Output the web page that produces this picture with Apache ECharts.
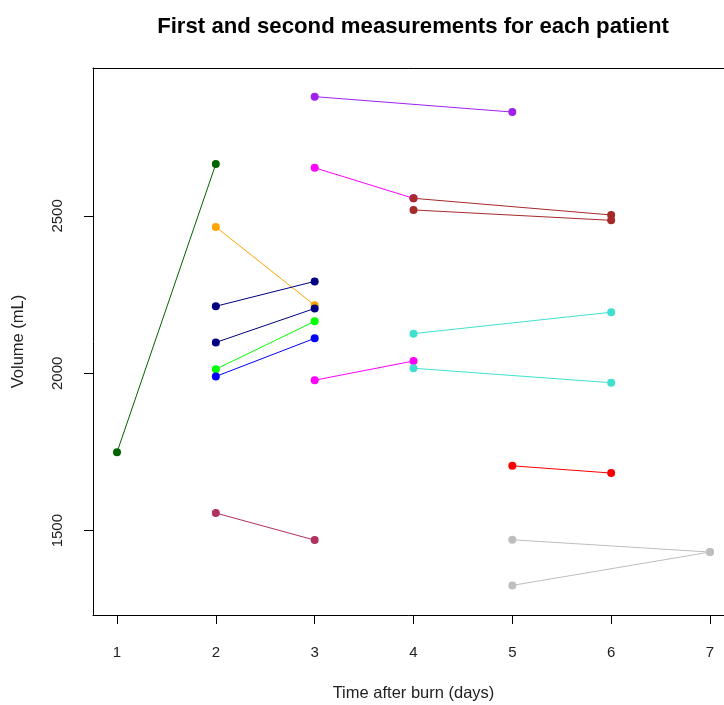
<!DOCTYPE html>
<html>
<head>
<meta charset="utf-8">
<script src="https://cdn.jsdelivr.net/npm/echarts@6/dist/echarts.min.js"></script>
<style>
  html, body { margin: 0; padding: 0; background: #fff; overflow: hidden; }
  #chart { width: 724px; height: 705px; }
</style>
</head>
<body>
<div id="chart"></div>
<script>
// Each patient: day and volume of the first and second measurement
const firstDay  = [1, 3, 3, 4, 4, 2, 2, 2, 2, 2, 3, 4, 4, 5, 2, 5, 5];
const firstVol  = [1749, 2879, 2653, 2556, 2519, 2465, 2213, 2098, 2013, 1990, 1978, 2126, 2016, 1706, 1556, 1471, 1326];
const secondDay = [2, 5, 4, 6, 6, 3, 3, 3, 3, 3, 4, 6, 6, 6, 3, 7, 7];
const secondVol = [2665, 2830, 2556, 2503, 2486, 2216, 2292, 2206, 2165, 2111, 2039, 2194, 1970, 1683, 1470, 1432, 1432];
const patientColors = ['#006400', '#A020F0', '#FF00FF', '#A52A2A', '#A52A2A', '#FFA500', '#000080', '#000080',
                       '#00FF00', '#0000FF', '#FF00FF', '#40E0D0', '#40E0D0', '#FF0000', '#B03060', '#BEBEBE', '#BEBEBE'];
const xTicks = [1, 2, 3, 4, 5, 6, 7];
const yTicks = [1500, 2000, 2500];

const series = firstDay.map((d, i) => ({
  type: 'line',
  data: [[d, firstVol[i]], [secondDay[i], secondVol[i]]],
  symbol: 'circle',
  symbolSize: 8,
  showSymbol: true,
  animation: false,
  lineStyle: { color: patientColors[i], width: 1 },
  itemStyle: { color: patientColors[i] },
  emphasis: { disabled: true }
}));

const fontFamily = 'Liberation Sans, Arial, sans-serif';
const tickFont = { fontFamily: fontFamily, fontSize: 15, color: '#222' };
const nameFont = { fontFamily: fontFamily, fontSize: 16.5, color: '#222' };
const boxLine = { show: true, onZero: false, lineStyle: { color: '#000', width: 1 } };

// The plot frame runs past the right edge of the page
const chart = echarts.init(document.getElementById('chart'), null, { renderer: 'canvas' });
chart.setOption({
  animation: false,
  backgroundColor: '#fff',
  title: {
    text: 'First and second measurements for each patient',
    left: 408, top: 11, textAlign: 'center',
    textStyle: { fontFamily: fontFamily, fontWeight: 'bold', fontSize: 22.2, color: '#000' }
  },
  grid: {
    left: 93, top: 68, width: 641, height: 547, show: false,
    outerBoundsMode: 'none', containLabel: false
  },
  xAxis: [{
    type: 'value', min: 0.757, max: 7.243, position: 'bottom',
    name: 'Time after burn (days)', nameLocation: 'middle', nameGap: 70,
    nameTextStyle: nameFont,
    axisLine: boxLine,
    splitLine: { show: false },
    axisTick: { show: true, length: 9, inside: false, customValues: xTicks, lineStyle: { color: '#000' } },
    axisLabel: Object.assign({ margin: 30, customValues: xTicks, formatter: v => String(v) }, tickFont)
  }, {
    // top edge of the plot frame
    type: 'value', min: 0.757, max: 7.243, position: 'top',
    axisLine: boxLine,
    axisTick: { show: false }, axisLabel: { show: false }, splitLine: { show: false }
  }],
  yAxis: {
    type: 'value', min: 1232, max: 2970, position: 'left',
    name: 'Volume (mL)', nameLocation: 'middle', nameGap: 66, nameRotate: 90,
    nameTextStyle: nameFont,
    axisLine: boxLine,
    splitLine: { show: false },
    axisTick: { show: true, length: 9, inside: false, customValues: yTicks, lineStyle: { color: '#000' } },
    axisLabel: Object.assign({ margin: 28, rotate: 90, customValues: yTicks, formatter: v => String(v) }, tickFont)
  },
  series: series
});
</script>
</body>
</html>
